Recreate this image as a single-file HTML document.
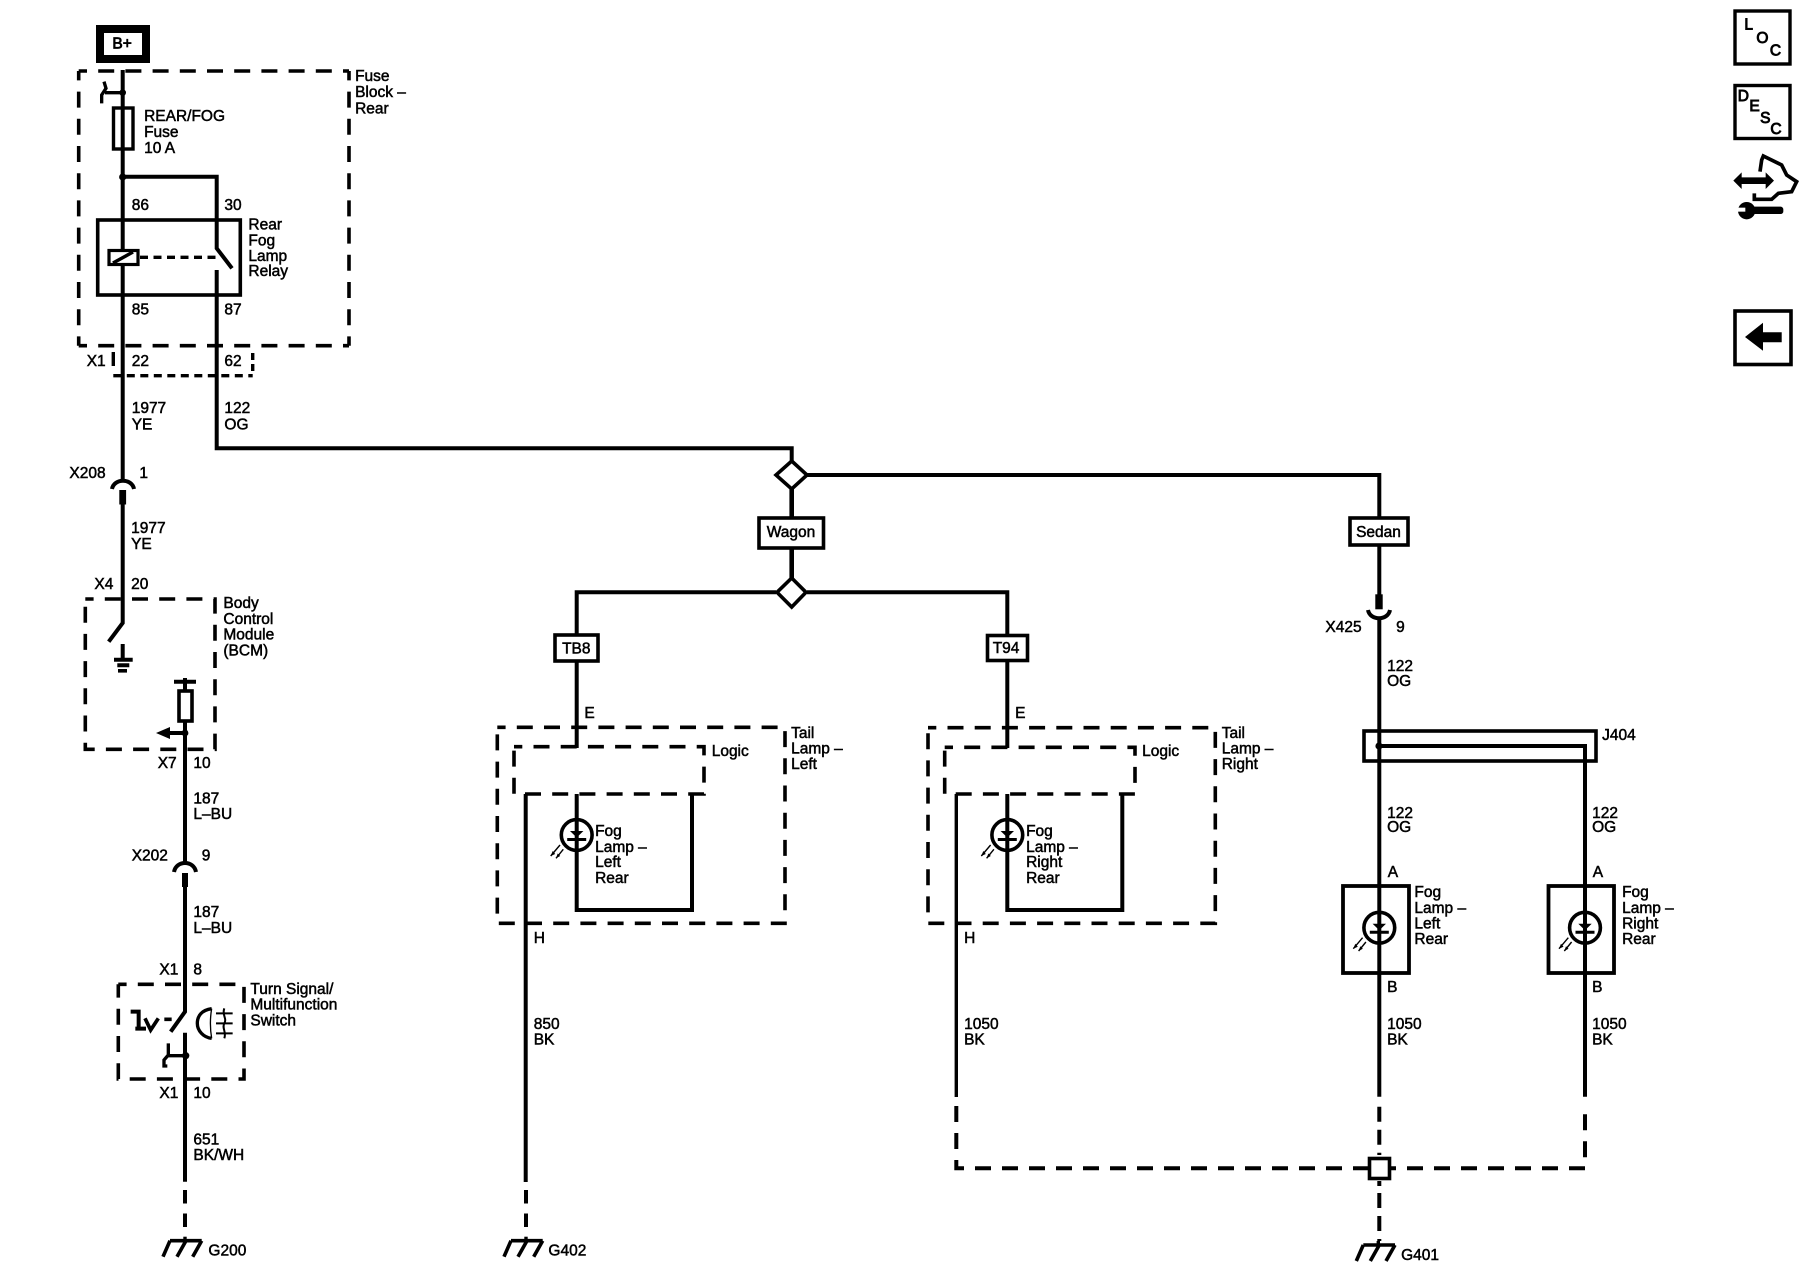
<!DOCTYPE html>
<html><head><meta charset="utf-8"><title>Fog Lamp Schematic</title>
<style>
html,body{margin:0;padding:0;background:#fff}
svg{display:block}
text{font-family:"Liberation Sans",sans-serif;font-size:15.5px;fill:#000;stroke:#000;stroke-width:.5;transform:translate(-.6px,-.5px)}
.w{fill:none;stroke:#000;stroke-width:4}
.n{fill:none;stroke:#000;stroke-width:3.4}
.d{fill:none;stroke:#000;stroke-width:3.6;stroke-dasharray:16 11.2;stroke-dashoffset:7.7}
.f{fill:#fff;stroke:#000;stroke-width:3.6}
.k{fill:#000;stroke:none}
.r{fill:none;stroke:#000;stroke-width:1.4}
</style></head><body>
<svg width="1800" height="1280" viewBox="0 0 1800 1280" xmlns="http://www.w3.org/2000/svg">
<defs>
<g id="lamp">
<circle cx="0" cy="0" r="15.4" fill="#fff" stroke="#000" stroke-width="3.6"/>
<path class="w" d="M0,-16V16"/>
<path class="k" d="M-6.7,-4H6.7L0,2.5Z"/>
<path class="w" style="stroke-width:3" d="M-9.5,4.5H9.5"/>
<path class="r" d="M-16.7,10L-26,21M-13.4,14.3L-20.7,23.3"/>
<path class="k" d="M-26,21L-24,16L-21.5,19ZM-20.7,23.3L-19,18.5L-16.5,21Z"/>
</g>
<g id="gnd">
<path class="w" style="stroke-width:3.6" d="M-15,0H16.7M-15,0L-22,16M1,0L-8,16M16.7,0L7.7,16"/>
<path class="n" d="M0,-4V0"/>
</g>
</defs>

<!-- B+ -->
<rect x="100" y="29" width="46" height="30" fill="#fff" stroke="#000" stroke-width="8"/>
<text x="113" y="49" style="stroke-width:.8">B+</text>

<!-- Fuse block -->
<path class="d" d="M78.7,71H349"/>
<path class="d" style="stroke-dashoffset:6.6" d="M78.7,71V345.7"/>
<path class="d" style="stroke-dashoffset:6.6" d="M349,71V345.7"/>
<path class="d" d="M78.7,345.7H349"/>
<path class="w" d="M122.7,70V480"/>
<g transform="translate(90,60) scale(.3333)">
<circle cx="98" cy="98" r="10"/>
<path fill="none" stroke="#000" stroke-width="10" d="M98,98H45M42,65L48,85L35,105V130"/>
</g>
<rect x="113.5" y="108" width="19.5" height="41" fill="none" stroke="#000" stroke-width="3.4"/>
<circle class="k" cx="122.7" cy="177" r="3.6"/>
<path class="w" d="M122.7,176.7H216.7V248.3L232,268.3M216.7,270V448.3H791.7V461"/>
<rect x="97.7" y="220" width="142.6" height="75" fill="none" stroke="#000" stroke-width="3.6"/>
<rect x="109" y="250.5" width="29" height="14" fill="#fff" stroke="#000" stroke-width="3.2"/>
<path class="n" d="M113,263L133,252"/>
<path class="n" style="stroke-dasharray:8 5.5" d="M140,257.3H216"/>
<path class="n" style="stroke-dasharray:14 11" d="M113.3,352V372"/>
<path class="n" style="stroke-dasharray:8 5.5" d="M113.3,375.7H252.7"/>
<path class="n" style="stroke-dasharray:7 4" d="M252.7,353V375"/>

<text x="355.7" y="81.7">Fuse</text><text x="355.7" y="97.7">Block –</text><text x="355.7" y="114">Rear</text>
<text x="144.7" y="121.7">REAR/FOG</text><text x="144.7" y="137.3">Fuse</text><text x="144.7" y="153.3">10 A</text>
<text x="132.3" y="210.7">86</text><text x="225" y="210.7">30</text>
<text x="249" y="230">Rear</text><text x="249" y="246">Fog</text><text x="249" y="261.7">Lamp</text><text x="249" y="276.7">Relay</text>
<text x="132.3" y="315">85</text><text x="225" y="315">87</text>
<text x="87.3" y="366.7">X1</text><text x="132.3" y="366.7">22</text><text x="225" y="366.7">62</text>
<text x="132.3" y="413.3">1977</text><text x="132.3" y="430">YE</text>
<text x="225" y="413.3">122</text><text x="225" y="430">OG</text>

<!-- X208 -->
<text x="70" y="478.5">X208</text><text x="140" y="478.5">1</text>
<path class="w" d="M112,489C114,478 132,478 134,489"/>
<rect class="k" x="119.3" y="490" width="6.8" height="14.5"/>
<path class="w" d="M122.7,504V623L108.7,641.7"/>
<text x="131.7" y="533.3">1977</text><text x="131.7" y="549.3">YE</text>
<text x="95" y="589.3">X4</text><text x="131.7" y="589.3">20</text>

<!-- BCM -->
<path class="d" d="M85.3,599H215V749.3H85.3V599"/>
<path class="w" d="M122.7,644V660M114,659.7H132.7M117.3,665.3H129.3"/>
<path class="w" style="stroke-width:3.6" d="M118,670.8H127"/>
<text x="224" y="608.3">Body</text><text x="224" y="624.3">Control</text><text x="224" y="640">Module</text><text x="224" y="656">(BCM)</text>
<path class="w" d="M174,681.7H196M185,678V690"/>
<rect x="179" y="691" width="13" height="30" fill="none" stroke="#000" stroke-width="3.6"/>
<path class="w" d="M185,721V863M185,733H168"/>
<circle class="k" cx="185" cy="733" r="3.4"/>
<path class="k" d="M156,733L170,727V739Z"/>
<text x="158.3" y="768.3">X7</text><text x="194" y="768.3">10</text>
<text x="194" y="804">187</text><text x="194" y="819.3">L–BU</text>
<text x="132.3" y="861">X202</text><text x="202.3" y="861">9</text>
<path class="w" d="M174,872C176,860 194,860 196,872"/>
<rect class="k" x="182" y="873" width="6" height="14"/>
<path class="w" d="M185,886V1011.7L170.7,1031.7M185,1032.7V1181.7"/>
<text x="194" y="917.7">187</text><text x="194" y="933.3">L–BU</text>
<text x="160" y="975">X1</text><text x="194" y="975">8</text>

<!-- Turn signal switch -->
<path class="d" d="M118.3,984.3H244V1079H118.3V984.3"/>
<text x="251" y="994.3">Turn Signal/</text><text x="251" y="1010">Multifunction</text><text x="251" y="1026">Switch</text>
<g transform="translate(110,980) scale(.3333)">
<path fill="none" stroke="#000" stroke-width="12" d="M62,95H86V146M76,146H108"/>
<path fill="none" stroke="#000" stroke-width="11" d="M105,115L122,150L145,115M163,118H185"/>
<path fill="none" stroke="#000" stroke-width="10" d="M305,86C275,90 262,108 262,130C262,152 280,172 305,175"/>
<path fill="none" stroke="#000" stroke-width="4" d="M305,86C300,115 300,145 305,175"/>
<path fill="none" stroke="#000" stroke-width="6" d="M318,100H368M318,130H368M318,160H368M343,85C335,105 352,115 343,130C335,145 350,155 343,175"/>
<path fill="none" stroke="#000" stroke-width="10" d="M227,227H175V190M175,225L162,240V258H172"/>
<circle cx="227" cy="227" r="11"/>
</g>
<text x="160" y="1098.3">X1</text><text x="194" y="1098.3">10</text>
<text x="194" y="1145">651</text><text x="194" y="1160.7">BK/WH</text>
<path class="w" style="stroke-dasharray:13.5 10" d="M185,1190V1236"/>
<use href="#gnd" x="185" y="1240.7"/>
<text x="209" y="1256">G200</text>

<!-- Wagon / Sedan -->
<path class="w" style="stroke-width:4.6" d="M791.7,485V580"/>
<path class="f" d="M791.7,461L807,475L791.7,489L776,475Z"/>
<path class="w" d="M807,475H1379.3V520"/>
<rect x="759" y="518" width="64.5" height="30" class="f"/>
<text x="767.3" y="537.3">Wagon</text>
<path class="w" d="M576.7,636V592.3H776M807,592.3H1007.3V636"/>
<path class="f" d="M791.7,578L806,592.3L791.7,607L777,592.3Z"/>
<rect x="555" y="635" width="43" height="26" class="f"/>
<text x="562.7" y="654">TB8</text>
<rect x="987.5" y="635.5" width="40" height="25" class="f"/>
<text x="993.3" y="653.3">T94</text>

<!-- Tail lamp left -->
<path class="w" d="M576.7,662V748"/>
<text x="585" y="718.3">E</text>
<path class="d" d="M497.3,727.3H785V923.3H497.3V727.3"/>
<path class="d" d="M514,746.7H704V794H514V746.7"/>
<text x="712.3" y="756.7">Logic</text>
<text x="791.7" y="738.3">Tail</text><text x="791.7" y="754">Lamp –</text><text x="791.7" y="769.3">Left</text>
<path class="w" d="M525.7,794V1182"/>
<path class="w" d="M576.7,794V910H692V794"/>
<use href="#lamp" x="576.7" y="835"/>
<text x="595.7" y="836.7">Fog</text><text x="595.7" y="852.3">Lamp –</text><text x="595.7" y="867.7">Left</text><text x="595.7" y="883.3">Rear</text>
<text x="534.3" y="943.3">H</text>
<text x="534.3" y="1029.3">850</text><text x="534.3" y="1045">BK</text>
<path class="w" style="stroke-dasharray:13.5 10" d="M526,1190V1236"/>
<use href="#gnd" x="526" y="1240.7"/>
<text x="549" y="1256">G402</text>

<!-- Tail lamp right -->
<path class="w" d="M1007.3,662V748"/>
<text x="1015.7" y="718.3">E</text>
<path class="d" d="M928,727.7H1215.3V923.3H928V727.7"/>
<path class="d" d="M944.7,747.3H1135V794H944.7V747.3"/>
<text x="1142.7" y="756.7">Logic</text>
<text x="1222.3" y="738.3">Tail</text><text x="1222.3" y="754">Lamp –</text><text x="1222.3" y="769.3">Right</text>
<path class="n" d="M956.3,794V1097"/>
<path class="w" d="M1007.3,794V910H1122.3V794"/>
<use href="#lamp" x="1007.3" y="835"/>
<text x="1026.7" y="836.7">Fog</text><text x="1026.7" y="852.3">Lamp –</text><text x="1026.7" y="867.7">Right</text><text x="1026.7" y="883.3">Rear</text>
<text x="964.7" y="943.3">H</text>
<text x="964.7" y="1029.3">1050</text><text x="964.7" y="1045">BK</text>

<!-- Sedan branch -->
<rect x="1350" y="518" width="58" height="27" class="f"/>
<text x="1356.7" y="537.3">Sedan</text>
<path class="w" d="M1379.3,546V595"/>
<rect class="k" x="1375.3" y="594.3" width="7.4" height="15"/>
<path class="w" d="M1368,610C1370,621 1388,621 1390,610"/>
<path class="w" d="M1379.3,619V1096.7"/>
<text x="1326" y="632.7">X425</text><text x="1396.7" y="632.7">9</text>
<text x="1387.7" y="671.7">122</text><text x="1387.7" y="686.7">OG</text>
<rect x="1364" y="731" width="232" height="30" fill="none" stroke="#000" stroke-width="3.6"/>
<text x="1602.7" y="740.7">J404</text>
<circle class="k" cx="1379" cy="746" r="3.6"/>
<path class="w" d="M1379,746H1585V1096.7"/>
<text x="1387.7" y="818.3">122</text><text x="1387.7" y="832.7">OG</text>
<text x="1592.7" y="818.3">122</text><text x="1592.7" y="832.7">OG</text>
<text x="1388.3" y="877.3">A</text><text x="1593.3" y="877.3">A</text>
<rect x="1343" y="886" width="66" height="87" fill="none" stroke="#000" stroke-width="3.8"/>
<rect x="1548.5" y="886" width="65.5" height="87" fill="none" stroke="#000" stroke-width="3.8"/>
<use href="#lamp" x="1379.3" y="927.7"/>
<use href="#lamp" x="1585" y="927.7"/>
<text x="1415" y="897.3">Fog</text><text x="1415" y="913.3">Lamp –</text><text x="1415" y="929">Left</text><text x="1415" y="944.3">Rear</text>
<text x="1622.7" y="897.3">Fog</text><text x="1622.7" y="913.3">Lamp –</text><text x="1622.7" y="929">Right</text><text x="1622.7" y="944.3">Rear</text>
<text x="1387.7" y="992.3">B</text><text x="1592.7" y="992.3">B</text>
<text x="1387.7" y="1029.3">1050</text><text x="1387.7" y="1045">BK</text>
<text x="1592.7" y="1029.3">1050</text><text x="1592.7" y="1045">BK</text>

<!-- Ground bus -->
<path class="w" style="stroke-dasharray:16 11" d="M956.3,1106V1168.3H1585V1106.5"/>
<path class="w" style="stroke-dasharray:15 8" d="M1379.3,1106.7V1155M1379.3,1181V1186M1379.3,1193V1241"/>
<rect x="1369.5" y="1158.5" width="20" height="20" class="f"/>
<use href="#gnd" x="1378.3" y="1245"/>
<text x="1401.7" y="1260.7">G401</text>

<!-- Right icons -->
<rect x="1735" y="11" width="55" height="53" fill="none" stroke="#000" stroke-width="3.4"/>
<text x="1745" y="30" style="stroke-width:.9">L</text>
<text x="1757" y="43.3" style="stroke-width:.9">O</text>
<text x="1770.5" y="56" style="stroke-width:.9">C</text>
<rect x="1735" y="85.5" width="55" height="53" fill="none" stroke="#000" stroke-width="3.4"/>
<text x="1738.3" y="101.7" style="stroke-width:.9">D</text>
<text x="1750" y="111.7" style="stroke-width:.9">E</text>
<text x="1760.7" y="123.3" style="stroke-width:.9">S</text>
<text x="1771" y="134.3" style="stroke-width:.9">C</text>
<g transform="translate(1720,140) scale(.3333)">
<path d="M40,122L65,97V112H137V97L162,122L137,147V132H65V147Z"/>
<path fill="none" stroke="#000" stroke-width="11" d="M120,95L125,60L130,48L185,75L200,105L230,125L215,155L175,160L155,178H103V160"/>
<rect x="95" y="200" width="95" height="22" rx="8"/>
<circle cx="80" cy="212" r="26"/>
<rect x="50" y="203" width="26" height="12" fill="#fff"/>
</g>
<rect x="1735" y="311" width="56" height="53.5" fill="none" stroke="#000" stroke-width="3.6"/>
<path class="k" d="M1745,337L1763,322.7V332.3H1781.7V342.3H1763V350.7Z"/>
</svg>
</body></html>
